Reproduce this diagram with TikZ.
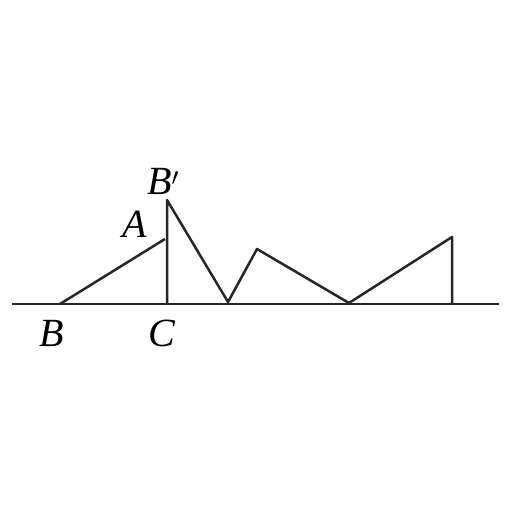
\documentclass[tikz,border=0pt]{standalone}
\usepackage{fontspec}
\setmainfont{Liberation Serif}
\begin{document}
\begin{tikzpicture}[x=1pt,y=-1pt,
  seg/.style={line width=2.5pt,line join=round,draw=black!85},
  lbl/.style={inner sep=0pt,font=\fontsize{40}{46}\selectfont\itshape}]
\useasboundingbox (0,0) rectangle (512,512);
\coordinate (L) at (12,304);
\coordinate (R) at (499,304);
\coordinate (Bp) at (60,304);
\coordinate (Cp) at (167,304);
\coordinate (Ap) at (165,239);
\coordinate (Bq) at (167,200);
\coordinate (P1) at (228,302);
\coordinate (P2) at (257,249);
\coordinate (P3) at (349,303);
\coordinate (P4) at (452,237);
\coordinate (P5) at (452,304);
\draw[seg] (L) -- (R);
\draw[seg] (Bp) -- (Ap);
\draw[seg] (Cp) -- (Bq) -- (P1) -- (P2) -- (P3) -- (P4) -- (P5);
\node[lbl] (nB) at (52,333) {B};
\node[lbl] (nC) at (162,333) {C};
\node[lbl] (nA) at (135,224) {A};
\node[lbl] (nBq) at (163,181) {B$'$};
\end{tikzpicture}
\end{document}
